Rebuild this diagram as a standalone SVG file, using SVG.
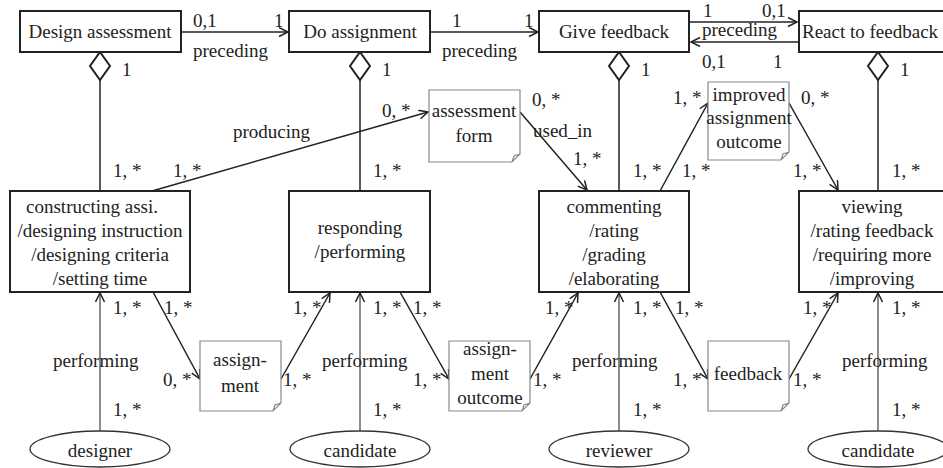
<svg xmlns="http://www.w3.org/2000/svg" width="943" height="468" viewBox="0 0 943 468">
<style>
svg text{font-family:"Liberation Serif",serif !important;font-size:19px !important;fill:#222}
svg text.c{text-anchor:middle}
.box{fill:#fff;stroke:#222;stroke-width:2}
.note{fill:#fff;stroke:#888;stroke-width:1.2}
.ln{fill:none;stroke:#222;stroke-width:1.5}
.lg{fill:none;stroke:#666;stroke-width:1.5}
.dia{fill:#fff;stroke:#222;stroke-width:2}
.ell{fill:#fff;stroke:#333;stroke-width:1.3}
</style>
<defs>
<marker id="a" markerWidth="12" markerHeight="12" refX="10" refY="5" orient="auto" markerUnits="userSpaceOnUse">
<path d="M1,0.5 L10,5 L1,9.5" fill="none" stroke="#222" stroke-width="1.5"/>
</marker>
</defs>
<g font-family="Liberation Serif" font-size="19">
<g id="connectors">
<line class="ln" x1="181" y1="32" x2="288" y2="32" marker-end="url(#a)"/>
<line class="ln" x1="430" y1="32" x2="538" y2="32" marker-end="url(#a)"/>
<line class="ln" x1="689" y1="22" x2="797" y2="22" marker-end="url(#a)"/>
<line class="ln" x1="799" y1="42" x2="691" y2="42" marker-end="url(#a)"/>
<line class="ln" x1="100" y1="80" x2="100" y2="191"/>
<line class="ln" x1="360" y1="80" x2="360" y2="191"/>
<line class="ln" x1="619" y1="80" x2="619" y2="191"/>
<line class="ln" x1="878" y1="80" x2="878" y2="191"/>
<line class="ln" x1="152" y1="191" x2="428" y2="112" marker-end="url(#a)"/>
<line class="ln" x1="520" y1="112" x2="587" y2="190" marker-end="url(#a)"/>
<line class="ln" x1="660" y1="191" x2="708" y2="103" marker-end="url(#a)"/>
<line class="ln" x1="789" y1="103" x2="838" y2="190" marker-end="url(#a)"/>
<line class="lg" x1="100" y1="431" x2="100" y2="293" marker-end="url(#a)"/>
<line class="lg" x1="360" y1="431" x2="360" y2="293" marker-end="url(#a)"/>
<line class="lg" x1="619" y1="431" x2="619" y2="293" marker-end="url(#a)"/>
<line class="lg" x1="878" y1="431" x2="878" y2="293" marker-end="url(#a)"/>
<line class="ln" x1="153" y1="292" x2="200" y2="379" marker-end="url(#a)"/>
<line class="ln" x1="281" y1="379" x2="330" y2="293" marker-end="url(#a)"/>
<line class="ln" x1="400" y1="292" x2="449" y2="379" marker-end="url(#a)"/>
<line class="ln" x1="530" y1="379" x2="578" y2="293" marker-end="url(#a)"/>
<line class="ln" x1="660" y1="292" x2="708" y2="379" marker-end="url(#a)"/>
<line class="ln" x1="789" y1="379" x2="838" y2="293" marker-end="url(#a)"/>
<polygon class="dia" points="100,52 110,66 100,80 90,66"/>
<polygon class="dia" points="360,52 370,66 360,80 350,66"/>
<polygon class="dia" points="619,52 629,66 619,80 609,66"/>
<polygon class="dia" points="878,52 888,66 878,80 868,66"/>
<text x="193" y="27">0,1</text>
<text x="274" y="27">1</text>
<text x="193" y="57">preceding</text>
<text x="452" y="27">1</text>
<text x="524" y="27">1</text>
<text x="442" y="57">preceding</text>
<text x="703" y="17">1</text>
<text x="762" y="17">0,1</text>
<text x="702" y="36">preceding</text>
<text x="702" y="68">0,1</text>
<text x="773" y="68">1</text>
<text x="122" y="76">1</text>
<text x="382" y="76">1</text>
<text x="641" y="76">1</text>
<text x="900" y="76">1</text>
<text x="233" y="138">producing</text>
<text x="382" y="117">0, *</text>
<text x="532" y="106">0, *</text>
<text x="533" y="137">used_in</text>
<text x="573" y="165">1, *</text>
<text x="673" y="104">1, *</text>
<text x="801" y="104">0, *</text>
<text x="113" y="177">1, *</text>
<text x="173" y="177">1, *</text>
<text x="373" y="177">1, *</text>
<text x="633" y="177">1, *</text>
<text x="682" y="177">1, *</text>
<text x="793" y="177">1, *</text>
<text x="892" y="177">1, *</text>
<text x="113" y="314">1, *</text>
<text x="164" y="314">1, *</text>
<text x="53" y="367">performing</text>
<text x="163" y="386">0, *</text>
<text x="113" y="416">1, *</text>
<text x="283" y="386">1, *</text>
<text x="293" y="314">1, *</text>
<text x="373" y="314">1, *</text>
<text x="413" y="314">1, *</text>
<text x="322" y="367">performing</text>
<text x="413" y="386">1, *</text>
<text x="373" y="416">1, *</text>
<text x="533" y="386">1, *</text>
<text x="545" y="314">1, *</text>
<text x="572" y="367">performing</text>
<text x="633" y="314">1, *</text>
<text x="675" y="314">1, *</text>
<text x="673" y="386">1, *</text>
<text x="633" y="416">1, *</text>
<text x="793" y="386">1, *</text>
<text x="803" y="314">1, *</text>
<text x="842" y="367">performing</text>
<text x="892" y="314">1, *</text>
<text x="892" y="416">1, *</text>
</g>

<g id="design-assessment"><rect class="box" x="20" y="11" width="161" height="41"/><text class="c" x="100" y="38">Design assessment</text></g>
<g id="do-assignment"><rect class="box" x="289" y="11" width="141" height="41"/><text class="c" x="360" y="38">Do assignment</text></g>
<g id="give-feedback"><rect class="box" x="539" y="11" width="150" height="41"/><text class="c" x="614" y="38">Give feedback</text></g>
<g id="react-to-feedback"><rect class="box" x="799" y="11" width="148" height="41"/><text x="802" y="38">React to feedback</text></g>

<g id="constructing"><rect class="box" x="10" y="191" width="180" height="101"/>
<text class="c" x="92" y="213">constructing assi.</text>
<text class="c" x="100" y="237">/designing instruction</text>
<text class="c" x="100" y="261">/designing criteria</text>
<text class="c" x="100" y="285">/setting time</text></g>
<g id="responding"><rect class="box" x="289" y="191" width="141" height="101"/>
<text class="c" x="360" y="234">responding</text>
<text class="c" x="360" y="258">/performing</text></g>
<g id="commenting"><rect class="box" x="539" y="191" width="150" height="101"/>
<text class="c" x="614" y="213">commenting</text>
<text class="c" x="614" y="237">/rating</text>
<text class="c" x="614" y="261">/grading</text>
<text class="c" x="614" y="285">/elaborating</text></g>
<g id="viewing"><rect class="box" x="799" y="191" width="148" height="101"/>
<text class="c" x="872" y="213">viewing</text>
<text class="c" x="872" y="237">/rating feedback</text>
<text class="c" x="872" y="261">/requiring more</text>
<text class="c" x="872" y="285">/improving</text></g>

<g id="assessment-form"><path class="note" d="M429,90 H520 V154 L512,162 H429 Z M512,162 L514,156 L520,154"/>
<text class="c" x="474" y="117">assessment</text>
<text class="c" x="474" y="142">form</text></g>
<g id="improved-outcome"><path class="note" d="M708,82 H789 V152 L781,160 H708 Z M781,160 L783,154 L789,152"/>
<text class="c" x="749" y="101">improved</text>
<text class="c" x="749" y="124">assignment</text>
<text class="c" x="749" y="148">outcome</text></g>
<g id="assignment"><path class="note" d="M200,341 H281 V403 L273,411 H200 Z M273,411 L275,405 L281,403"/>
<text class="c" x="240" y="366">assign-</text>
<text class="c" x="240" y="392">ment</text></g>
<g id="assignment-outcome"><path class="note" d="M449,341 H530 V403 L522,411 H449 Z M522,411 L524,405 L530,403"/>
<text class="c" x="490" y="355">assign-</text>
<text class="c" x="490" y="380">ment</text>
<text class="c" x="490" y="404">outcome</text></g>
<g id="feedback"><path class="note" d="M708,341 H789 V403 L781,411 H708 Z M781,411 L783,405 L789,403"/>
<text class="c" x="748" y="380">feedback</text></g>

<g id="designer"><ellipse class="ell" cx="100" cy="449" rx="70" ry="18"/><text class="c" x="100" y="457">designer</text></g>
<g id="candidate1"><ellipse class="ell" cx="360" cy="449" rx="70" ry="18"/><text class="c" x="360" y="457">candidate</text></g>
<g id="reviewer"><ellipse class="ell" cx="619" cy="449" rx="70" ry="18"/><text class="c" x="619" y="457">reviewer</text></g>
<g id="candidate2"><ellipse class="ell" cx="878" cy="449" rx="70" ry="18"/><text class="c" x="878" y="457">candidate</text></g>
</g>
</svg>
